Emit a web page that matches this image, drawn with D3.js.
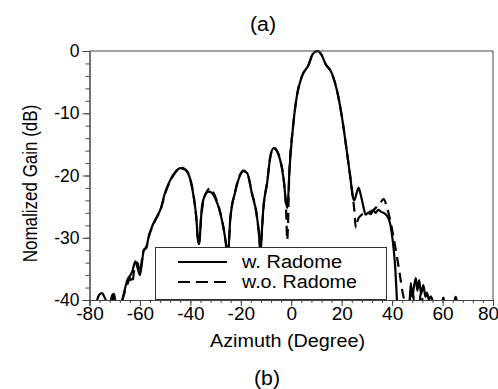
<!DOCTYPE html>
<html>
<head>
<meta charset="utf-8">
<script src="https://cdn.jsdelivr.net/npm/d3@7"></script>
<style>
  body { margin: 0; background: #fff; }
  text { font-family: "Liberation Sans", Arial, sans-serif; fill: #000; }
</style>
</head>
<body>
<svg id="chart" width="498" height="389"></svg>
<script>
// azimuth (deg) / gain (dB), null = gap in the trace
var wAz = [-77,-76.2,-75,-74,-73.5,null,-71.5,-71,-70.3,-69.8,null,
  -67,-66.4,-65,-63.8,-63.1,-61.8,-60.9,-60,-59.2,-58.5,-57.4,-56.5,-55.2,-53.9,-51.9,-49.9,-47.9,-45.9,-44,-42,-40,-38.7,-37.6,-37,-36.5,
  -35.8,-35.4,-34.1,-32.8,-31.5,-30.1,-28.1,-26.5,-25.6,-25.2,-24.6,-24.2,-22.2,-20.2,-19,-17.5,-15.6,-13.6,-12.5,-12.2,
  -11.8,-11,-9.6,-8.3,-7,-5.8,-4.4,-3,-2,-1.5,-0.7,0.7,2.2,4.2,6.9,8.5,10.3,12,13.5,16.1,18.1,20.1,21.8,23.4,24.4,
  25,25.8,26.7,27.5,28.6,29.5,30.5,31.5,32.5,33.5,34.5,35.5,36.6,38,39.2,40.5,41.2,41.9,null,
  47,47.4,48,48.6,49.4,50,50.7,51.5,52.4,53.2,53.8,54.6,55.3,56,null,60,60.3,60.6,null,64.8,65.2,65.6];
var wGain = [-40,-39.2,-38.9,-39.6,-40,null,-40,-39.2,-39,-40,null,
  -40,-39,-36.8,-36,-35.5,-33.8,-34.9,-36,-34,-32,-31.4,-29.8,-28.2,-27.1,-25.5,-22.6,-20.7,-19.4,-18.8,-19.1,-20.7,-23.4,-27,-30.4,-31,
  -27,-25,-23.1,-22.6,-22.8,-23.7,-26.1,-29.3,-32,-34,-30,-27.1,-22.6,-19.9,-19.3,-19.6,-22.9,-26.6,-30.9,-33,
  -30,-25,-21.3,-17,-15.6,-16,-17.5,-20.7,-24.5,-25.2,-19.1,-12.2,-7.3,-4.1,-2.2,-0.5,0,-0.6,-2,-3.6,-6.3,-10.6,-15.4,-20.2,-23.4,
  -24,-23,-22,-23,-25,-26.3,-26,-26.2,-25.6,-26,-25.5,-25.8,-26,-26.5,-27.7,-31.4,-34.6,-40,null,
  -40,-37.3,-39.5,-38,-36.5,-38.5,-36.8,-39,-37.6,-39.5,-38.8,-40,-39.4,-40,null,-40,-39.6,-40,null,-40,-39.5,-40];

var woAz = [-71,-70.5,-70,null,
  -67,-66.4,-65,-63.8,-63.1,-62,-61,-60,-59.2,-58.5,-57.4,-56.5,-55.2,-53.9,-51.9,-49.9,-47.9,-45.9,-44,-42,-40,-38.7,-37.6,-37,-36.5,
  -35.8,-35,-33.5,-32.2,-31.2,-30,-28.1,-26.5,-25.6,-25.2,-24.6,-24.2,-22.2,-20.2,-19,-17.5,-15.6,-13.6,-12.5,-12.2,
  -11.8,-11,-9.6,-8.3,-7,-5.8,-4.4,-3,-2,-1.6,-1.3,-0.8,0.7,2.2,4.2,6.9,8.5,10.3,12,13.5,16.1,18.1,20.1,21.8,23.4,24.4,
  25,25.6,26.5,28,30,31.5,33,34,35.5,36.6,38,39.2,40.5,41.9,43.2,44.2,44.8,null,
  47,47.8,48.6,null,51,51.5,52];
var woGain = [-40,-39.3,-40,null,
  -40,-39.2,-37.5,-36.5,-37.3,-34.5,-34,-35.5,-33.5,-32,-31.6,-29.8,-28.4,-27.2,-25.6,-22.8,-20.8,-19.5,-18.7,-19,-20.6,-23.3,-27,-30.4,-31,
  -27,-24.5,-22.6,-22,-22.5,-23.5,-26,-29.3,-32,-34,-30,-27,-22.5,-19.8,-19.2,-19.6,-22.8,-26.6,-31,-33,
  -30,-25,-21.2,-17,-15.5,-15.9,-17.4,-20.6,-26,-30.4,-28,-20,-12.2,-7.3,-4.1,-2.2,-0.5,0,-0.6,-2,-3.6,-6.3,-10.6,-15.4,-20.2,-23.4,
  -25.5,-28.4,-27,-26.3,-26,-25.8,-25.4,-25,-24.3,-23.8,-25.2,-27.1,-29.8,-33,-36.3,-38.9,-40,null,
  -40,-38.2,-40,null,-40,-38.6,-40];

var xMajor = [-80,-60,-40,-20,0,20,40,60,80];
var yMajor = [0,-10,-20,-30,-40];
var seriesNames = ["w. Radome", "w.o. Radome"];

var svg = d3.select("#chart");
var x = d3.scaleLinear().domain([-80, 80]).range([89.5, 493]);
var y = d3.scaleLinear().domain([-40, 0]).range([300, 51]);

svg.append("defs").append("clipPath").attr("id", "plotClip")
  .append("rect")
    .attr("x", x(-80)).attr("y", y(0) - 2)
    .attr("width", x(80) - x(-80)).attr("height", y(-40) - y(0) + 2);

function toPoints(az, gain) {
  return az.map(function(a, i) { return a === null ? null : [a, gain[i]]; });
}

var line = d3.line()
  .defined(function(d) { return d !== null; })
  .curve(d3.curveMonotoneX)
  .x(function(d) { return x(d[0]); })
  .y(function(d) { return y(d[1]); });

var plot = svg.append("g").attr("clip-path", "url(#plotClip)");

plot.append("path")
  .attr("d", line(toPoints(woAz, woGain)))
  .attr("fill", "none").attr("stroke", "#000")
  .attr("stroke-width", 2.2).attr("stroke-dasharray", "10,6");

plot.append("path")
  .attr("d", line(toPoints(wAz, wGain)))
  .attr("fill", "none").attr("stroke", "#000")
  .attr("stroke-width", 2.2).attr("stroke-linejoin", "round");

// legend (opaque, sits on the curves)
var legend = svg.append("g");
legend.append("rect")
  .attr("x", 155.5).attr("y", 247.5).attr("width", 231).attr("height", 52)
  .attr("fill", "#fff").attr("stroke", "#333").attr("stroke-width", 1);
legend.append("line")
  .attr("x1", 178).attr("x2", 227).attr("y1", 262).attr("y2", 262)
  .attr("stroke", "#000").attr("stroke-width", 2);
legend.append("line")
  .attr("x1", 178).attr("x2", 227).attr("y1", 282).attr("y2", 282)
  .attr("stroke", "#000").attr("stroke-width", 2).attr("stroke-dasharray", "12,6");
legend.append("text").attr("x", 242).attr("y", 268)
  .attr("font-size", 18).attr("textLength", 100).attr("lengthAdjust", "spacingAndGlyphs")
  .text(seriesNames[0]);
legend.append("text").attr("x", 242).attr("y", 287.5)
  .attr("font-size", 18).attr("textLength", 115).attr("lengthAdjust", "spacingAndGlyphs")
  .text(seriesNames[1]);

// frame
svg.append("path")
  .attr("d", "M" + x(-80) + "," + y(0) + "H" + x(80) + "V" + y(-40))
  .attr("fill", "none").attr("stroke", "#444").attr("stroke-width", 1);

// axes
var fmt = function(d) { return String(d); };
var xAxis = svg.append("g").attr("transform", "translate(0," + y(-40) + ")")
  .call(d3.axisBottom(x).tickValues(xMajor).tickSize(6).tickPadding(1).tickFormat(fmt));
svg.append("g").attr("transform", "translate(0," + y(-40) + ")")
  .call(d3.axisBottom(x).tickValues(d3.range(-80, 81, 4)).tickSize(3).tickFormat(""));
var yAxis = svg.append("g").attr("transform", "translate(" + x(-80) + ",0)")
  .call(d3.axisLeft(y).tickValues(yMajor).tickSize(7).tickPadding(3).tickFormat(fmt));
svg.append("g").attr("transform", "translate(" + x(-80) + ",0)")
  .call(d3.axisLeft(y).tickValues(d3.range(-40, 1, 2)).tickSize(4).tickFormat(""));

svg.selectAll(".domain").attr("stroke", "#444");
svg.selectAll(".tick line").attr("stroke", "#444");
xAxis.selectAll("text").attr("font-size", 19).attr("fill", "#000")
  .style("font-family", "'Liberation Sans', Arial, sans-serif");
// keep the last label inside the page
xAxis.selectAll("text").filter(function(d) { return d === 80; }).attr("dx", -5);
yAxis.selectAll("text").attr("font-size", 17.5).attr("fill", "#000")
  .style("font-family", "'Liberation Sans', Arial, sans-serif");

// titles
svg.append("text").attr("x", 287.5).attr("y", 347)
  .attr("text-anchor", "middle").attr("font-size", 17.5)
  .attr("textLength", 155).attr("lengthAdjust", "spacingAndGlyphs")
  .text("Azimuth (Degree)");
svg.append("text")
  .attr("transform", "translate(37,183.5) scale(1.15,1) rotate(-90)")
  .attr("text-anchor", "middle").attr("font-size", 17)
  .text("Nomalized Gain (dB)");
svg.append("text").attr("x", 263).attr("y", 31)
  .attr("text-anchor", "middle").attr("font-size", 20).attr("font-weight", 300)
  .attr("textLength", 26).attr("lengthAdjust", "spacingAndGlyphs")
  .text("(a)");
svg.append("text").attr("x", 267).attr("y", 385)
  .attr("text-anchor", "middle").attr("font-size", 20).attr("font-weight", 300)
  .attr("textLength", 26).attr("lengthAdjust", "spacingAndGlyphs")
  .text("(b)");
</script>
</body>
</html>
